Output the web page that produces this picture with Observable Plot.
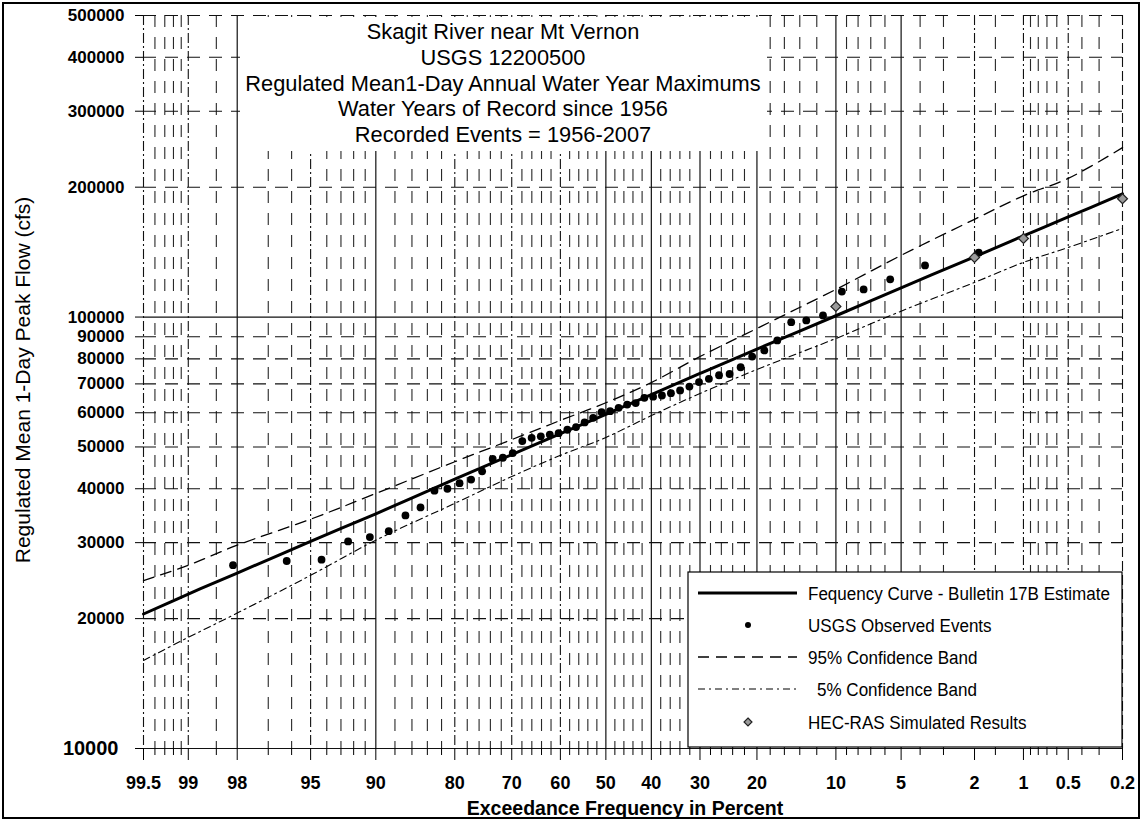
<!DOCTYPE html>
<html>
<head>
<meta charset="utf-8">
<script src="https://cdn.jsdelivr.net/npm/d3@7"></script>
<script src="https://cdn.jsdelivr.net/npm/@observablehq/plot@0.6"></script>
<style>
  body { margin: 0; background: #fff; }
  #chart svg { display: block; }
  #chart g[aria-label="x-axis tick label"] text,
  #chart g[aria-label="y-axis tick label"] text { font-weight: bold; }
</style>
</head>
<body>
<div id="chart"></div>
<script>
// Labelled exceedance frequencies (percent) on the probability axis
const xTickLabels = [99.5, 99, 98, 95, 90, 80, 70, 60, 50, 40, 30, 20, 10, 5, 2, 1, 0.5, 0.2];
// Unlabelled intermediate frequencies (minor grid)
const xMinorTicks = [99.4, 99.3, 99.2, 99.1, 98.5, 97, 96, 94, 93, 92, 91, 88, 86, 84, 82,
  78, 76, 74, 72, 68, 66, 64, 62, 58, 56, 54, 52, 48, 46, 44, 42, 38, 36, 34, 32,
  28, 26, 24, 22, 18, 16, 14, 12, 9, 8, 7, 6, 4, 3, 1.5, 0.9, 0.8, 0.7, 0.6, 0.4, 0.3];
// Flow axis ticks (cfs)
const yTickValues = [10000, 20000, 30000, 40000, 50000, 60000, 70000, 80000, 90000,
  100000, 200000, 300000, 400000, 500000];

// USGS observed annual maximums, ranked, with their plotting positions (percent)
const observedExceedance = [1.89, 3.77, 5.66, 7.55, 9.43, 11.32, 13.21, 15.09, 16.98, 18.87,
  20.75, 22.64, 24.53, 26.42, 28.30, 30.19, 32.08, 33.96, 35.85, 37.74,
  39.62, 41.51, 43.40, 45.28, 47.17, 49.06, 50.94, 52.83, 54.72, 56.60,
  58.49, 60.38, 62.26, 64.15, 66.04, 67.92, 69.81, 71.70, 73.58, 75.47,
  77.36, 79.25, 81.13, 83.02, 84.91, 86.79, 88.68, 90.57, 92.45, 94.34, 96.23, 98.11];
const observedFlow = [141000, 131700, 122300, 115900, 114600, 100900, 98200, 97300, 88300, 83700,
  81000, 76500, 73800, 73300, 71900, 70700, 69000, 67600, 66600, 65800,
  65400, 65000, 63200, 62700, 61600, 60500, 60200, 58400, 57000, 55600,
  54800, 53800, 53400, 52900, 52500, 51600, 48400, 47200, 46900, 43900,
  42000, 41200, 40000, 39600, 36200, 34700, 31900, 30900, 30200, 27400, 27200, 26600];

// Bulletin 17B frequency curve and confidence limits, at the labelled frequencies
const curveExceedance = [99.5, 99, 98, 95, 90, 80, 70, 60, 50, 40, 30, 20, 10, 5, 2, 1, 0.5, 0.2];
const curveFlow = [20500, 22800, 25500, 30200, 35000, 42100, 48000, 53700, 59500, 66100,
  74000, 84300, 100700, 116900, 137900, 154300, 170600, 193000];
const upper95Flow = [24500, 26600, 29600, 34000, 39000, 46200, 52000, 57600, 63300, 70500,
  81000, 94100, 115900, 139000, 168500, 191000, 209600, 247000];
const lower5Flow = [16000, 18100, 20600, 25200, 30400, 37000, 42700, 47800, 52600, 59100,
  66500, 75600, 89200, 103200, 120300, 133900, 145000, 160500];

// HEC-RAS simulated events
const hecExceedance = [10, 2, 1, 0.2];
const hecFlow = [105800, 137500, 152100, 188000];

// Inverse standard normal CDF (Acklam's rational approximation)
function normInv(p) {
  const a = [-3.969683028665376e+01, 2.209460984245205e+02, -2.759285104469687e+02,
    1.383577518672690e+02, -3.066479806614716e+01, 2.506628277459239e+00];
  const b = [-5.447609879822406e+01, 1.615858368580409e+02, -1.556989798598866e+02,
    6.680131188771972e+01, -1.328068155288572e+01];
  const c = [-7.784894002430293e-03, -3.223964580411365e-01, -2.400758277161838e+00,
    -2.549732539343734e+00, 4.374664141464968e+00, 2.938163982698783e+00];
  const d = [7.784695709041462e-03, 3.224671290700398e-01, 2.445134137142996e+00,
    3.754408661907416e+00];
  const pl = 0.02425;
  let q, r;
  if (p < pl) {
    q = Math.sqrt(-2 * Math.log(p));
    return (((((c[0]*q+c[1])*q+c[2])*q+c[3])*q+c[4])*q+c[5]) / ((((d[0]*q+d[1])*q+d[2])*q+d[3])*q+1);
  }
  if (p <= 1 - pl) {
    q = p - 0.5; r = q * q;
    return (((((a[0]*r+a[1])*r+a[2])*r+a[3])*r+a[4])*r+a[5])*q / (((((b[0]*r+b[1])*r+b[2])*r+b[3])*r+b[4])*r+1);
  }
  q = Math.sqrt(-2 * Math.log(1 - p));
  return -(((((c[0]*q+c[1])*q+c[2])*q+c[3])*q+c[4])*q+c[5]) / ((((d[0]*q+d[1])*q+d[2])*q+d[3])*q+1);
}
// exceedance percent -> standard normal variate (probability paper position)
const probit = pct => normInv(1 - pct / 100);

const majorZ = xTickLabels.map(probit);
const minorZ = xMinorTicks.map(probit);
const labelOf = z => String(xTickLabels[d3.minIndex(majorZ, v => Math.abs(v - z))]);

// Line styles of the probability-paper grid
const dashDotMajors = [99.5, 99, 95, 80, 70, 60, 2, 1, 0.5];
const dashedMajors = [0.2];
const solidMajors = xTickLabels.filter(p => !dashDotMajors.includes(p) && !dashedMajors.includes(p));
const dashedFlows = yTickValues.filter(v => v !== 10000 && v !== 100000);

const observed = observedExceedance.map((p, i) => ({p, q: observedFlow[i]}));
const curve = curveExceedance.map((p, i) => ({p, q: curveFlow[i]}));
const upper = curveExceedance.map((p, i) => ({p, q: upper95Flow[i]}));
const lower = curveExceedance.map((p, i) => ({p, q: lower5Flow[i]}));
const hec = hecExceedance.map((p, i) => ({p, q: hecFlow[i]}));
const X = d => probit(d.p);

const W = 1143, H = 821;
const gridColor = "#111";

const chart = Plot.plot({
  width: W,
  height: H,
  marginLeft: 143,
  marginRight: 21,
  marginTop: 15,
  marginBottom: 73,
  style: {fontFamily: "'Liberation Sans', Arial, sans-serif", fontSize: "16px", color: "#000", background: "#fff"},
  x: {type: "linear", domain: [probit(99.5), probit(0.2)]},
  y: {type: "log", domain: [10000, 500000]},
  marks: [
    // minor verticals
    Plot.ruleX(minorZ, {stroke: gridColor, strokeWidth: 1.1, strokeDasharray: "12,10", strokeOpacity: 0.9}),
    // major verticals
    Plot.ruleX(solidMajors.map(probit), {stroke: gridColor, strokeWidth: 1.2}),
    Plot.ruleX(dashDotMajors.map(probit), {stroke: gridColor, strokeWidth: 1.1, strokeDasharray: "10,3,2,3"}),
    Plot.ruleX(dashedMajors.map(probit), {stroke: gridColor, strokeWidth: 1.1, strokeDasharray: "10,4"}),
    // horizontals
    Plot.ruleY(dashedFlows, {stroke: gridColor, strokeWidth: 1.1, strokeDasharray: "13,9"}),
    Plot.ruleY([10000, 100000], {stroke: gridColor, strokeWidth: 1.2}),
    // axes
    Plot.axisX(minorZ, {tickSize: 7, tickFormat: () => "", label: null}),
    Plot.axisX(majorZ, {tickSize: 12, tickPadding: 16, tickFormat: labelOf, label: null, fontSize: 18}),
    Plot.axisY(yTickValues, {tickSize: 8, tickPadding: 11, tickFormat: d3.format("d"), label: null, fontSize: 17}),
    // confidence bands
    Plot.line(upper, {x: X, y: "q", stroke: "#000", strokeWidth: 1.3, strokeDasharray: "11,7", curve: "catmull-rom"}),
    Plot.line(lower, {x: X, y: "q", stroke: "#000", strokeWidth: 1.1, strokeDasharray: "7,4,2,4", curve: "catmull-rom"}),
    // frequency curve
    Plot.line(curve, {x: X, y: "q", stroke: "#000", strokeWidth: 3, curve: "catmull-rom"}),
    // observed events
    Plot.dot(observed, {x: X, y: "q", r: 3.9, fill: "#000", stroke: "none"}),
    // simulated results
    Plot.dot(hec, {x: X, y: "q", symbol: "diamond2", r: 4.5, fill: "#9a9a9a", stroke: "#222", strokeWidth: 1.2})
  ]
});

document.getElementById("chart").append(chart);

const svg = d3.select(chart.tagName.toLowerCase() === "svg" ? chart : chart.querySelector("svg"));
const font = "'Liberation Sans', Arial, sans-serif";

// the bottom flow label is set larger
svg.selectAll('g[aria-label="y-axis tick label"] text')
  .filter(function() { return this.textContent === "10000"; })
  .attr("font-size", 20).attr("dx", -6);

// outer border
svg.append("rect").attr("x", 3).attr("y", 3).attr("width", W - 7).attr("height", H - 6)
  .attr("fill", "none").attr("stroke", "#000").attr("stroke-width", 2);

// title block
svg.append("rect").attr("x", 240).attr("y", 17).attr("width", 527).attr("height", 134).attr("fill", "#fff");
const titleLines = ["Skagit River near Mt Vernon", "USGS 12200500",
  "Regulated Mean1-Day Annual Water Year Maximums", "Water Years of Record since 1956",
  "Recorded Events = 1956-2007"];
svg.append("g").attr("font-family", font).attr("font-size", 21.8).attr("text-anchor", "middle")
  .selectAll("text").data(titleLines).join("text")
  .attr("x", 503).attr("y", (d, i) => 39 + i * 25.8).text(d => d);

// axis titles
svg.append("text").attr("font-family", font).attr("font-size", 21)
  .attr("text-anchor", "middle").attr("transform", "translate(30,380) rotate(-90)")
  .text("Regulated Mean 1-Day Peak Flow (cfs)");
svg.append("text").attr("font-family", font).attr("font-size", 19.5).attr("font-weight", "bold")
  .attr("text-anchor", "middle").attr("x", 625).attr("y", 815)
  .text("Exceedance Frequency in Percent");

// legend
const lg = svg.append("g");
lg.append("rect").attr("x", 688).attr("y", 572).attr("width", 434).attr("height", 175)
  .attr("fill", "#fff").attr("stroke", "#000").attr("stroke-width", 1.2);
const rows = [
  {label: "Fequency Curve - Bulletin 17B Estimate", kind: "solid", tx: 808},
  {label: "USGS Observed Events", kind: "dot", tx: 808},
  {label: "95% Confidence Band", kind: "dash", tx: 808},
  {label: "5% Confidence Band", kind: "dashdot", tx: 817},
  {label: "HEC-RAS Simulated Results", kind: "diamond", tx: 808}
];
const rowY = [593, 625, 657, 689, 722];
rows.forEach((r, i) => {
  const y = rowY[i];
  if (r.kind === "solid") lg.append("line").attr("x1", 698).attr("x2", 797).attr("y1", y).attr("y2", y).attr("stroke", "#000").attr("stroke-width", 3);
  if (r.kind === "dash") lg.append("line").attr("x1", 698).attr("x2", 797).attr("y1", y).attr("y2", y).attr("stroke", "#000").attr("stroke-width", 1.3).attr("stroke-dasharray", "11,7");
  if (r.kind === "dashdot") lg.append("line").attr("x1", 698).attr("x2", 797).attr("y1", y).attr("y2", y).attr("stroke", "#000").attr("stroke-width", 1.1).attr("stroke-dasharray", "7,4,2,4");
  if (r.kind === "dot") lg.append("circle").attr("cx", 748).attr("cy", y).attr("r", 3).attr("fill", "#000");
  if (r.kind === "diamond") lg.append("path").attr("d", d3.symbol(d3.symbolDiamond2, 40)()).attr("transform", `translate(748,${y})`).attr("fill", "#9a9a9a").attr("stroke", "#222").attr("stroke-width", 1.2);
  // condensed lettering
  lg.append("text").attr("font-family", font).attr("font-size", 19).attr("text-anchor", "start")
    .attr("transform", `translate(${r.tx},${y + 7}) scale(0.897,1)`).text(r.label);
});
</script>
</body>
</html>
